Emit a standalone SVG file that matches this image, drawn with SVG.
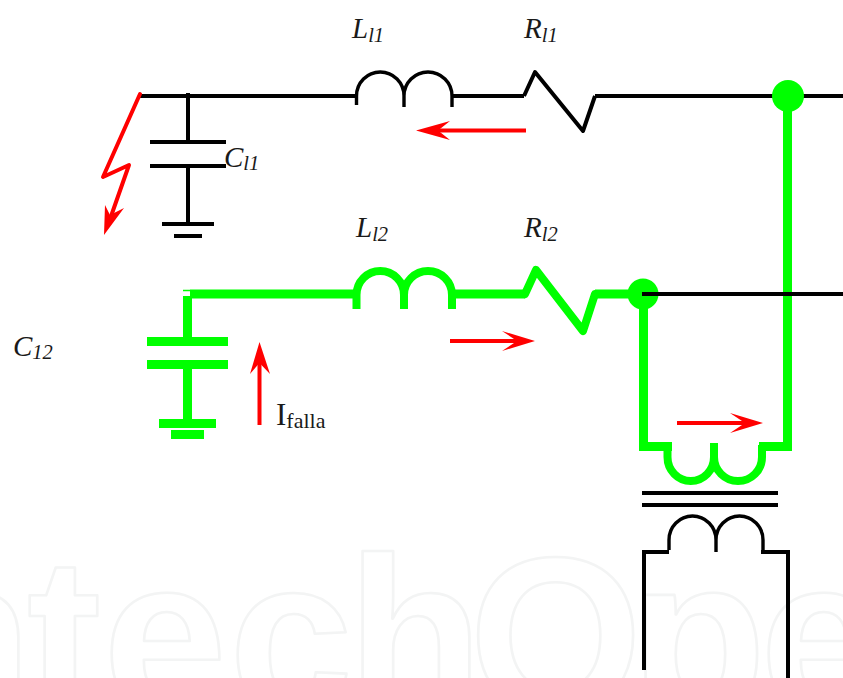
<svg xmlns="http://www.w3.org/2000/svg" width="843" height="678" viewBox="0 0 843 678">
<style>
.wm{font-family:"Liberation Sans",Arial,sans-serif;font-weight:700;font-size:223px;fill:#fff;stroke:#f3f4f4;stroke-width:2.6;stroke-linejoin:round}
.k{fill:none;stroke:#000;stroke-width:4}
.kt{fill:none;stroke:#000;stroke-width:3.4}
.g{fill:none;stroke:#00ff00;stroke-width:9}
.gt{fill:none;stroke:#00ff00;stroke-width:8}
.r{fill:none;stroke:#ff0000;stroke-width:4}
.rh{fill:#ff0000;stroke:none}
.t{font-family:"Liberation Serif","Times New Roman",serif;font-size:29px;font-style:italic;fill:#1a1a1a}
.s{font-size:20.500px}
.u{font-family:"Liberation Serif","Times New Roman",serif;font-size:31px;fill:#1a1a1a}
</style>
<rect width="843" height="678" fill="#fff"/>
<text id="watermark" class="wm" y="713" x="-104 27 103 229 347 469 630 760">ntechOpe</text>
<g id="connectors">
<path class="k" d="M140 96H356M452 96H524M595 96H843"/>
<path class="k" d="M188 93V142M188 166V224"/>
<path class="g" d="M190 294H356M452 294H525M595 294H640"/>
<path class="g" d="M187.500 296V341M187.500 364V424"/>
<path d="M183 290.500H190" stroke="#00ff00" stroke-width="1.500" fill="none"/>
<path class="g" d="M643.500 300V446.500H672M759 446.500H787.500V100"/>
<path class="k" d="M644 670V552H669M761 552H788V678"/>
<path class="r" d="M140 94L103 177L129 165L109 222" stroke-linejoin="round" stroke-linecap="round"/>
<path class="rh" d="M104 235L105 205L110 215L124 208Z"/>
</g>
<g id="L1"><path class="kt" d="M356.500 105V96A23.750 24 0 0 1 404 96V107M404 96A24 24 0 0 1 452 96V107"/><text class="t" x="352" y="38">L<tspan class="s" dy="3.500">l1</tspan></text></g>
<g id="R1"><path class="k" d="M524 96L535 72L583 131L595 96" stroke-linejoin="round"/><text class="t" x="524" y="38">R<tspan class="s" dy="3.500">l1</tspan></text></g>
<g id="C1"><path class="k" d="M150 142H226M150 166H226"/><text class="t" x="224" y="167">C<tspan class="s" dy="3">l1</tspan></text></g>
<g id="G1"><path class="k" d="M162 224H214M174 236H202"/></g>
<g id="L2"><path class="gt" d="M356.500 309V295A23.750 24 0 0 1 404 295V309M404 295A24 24 0 0 1 452 295V309"/><text class="t" x="356" y="237">L<tspan class="s" dy="4">l2</tspan></text></g>
<g id="R2"><path class="gt" d="M525 294L536 270L583 331L595 294" stroke-linejoin="round" stroke-linecap="round"/><text class="t" x="524" y="237">R<tspan class="s" dy="4">l2</tspan></text></g>
<g id="C2"><path class="g" d="M147 341.500H228M147 364.500H228"/><text class="t" x="13" y="356">C<tspan class="s" dy="3">12</tspan></text></g>
<g id="G2"><path class="g" d="M159 423.500H216M171 434.500H204"/></g>
<g id="bus1"><circle cx="788" cy="96" r="16" fill="#00ff00"/></g>
<g id="bus2"><circle cx="643" cy="294" r="15.500" fill="#00ff00"/><path class="k" d="M642 294H843"/></g>
<g id="T"><path class="gt" d="M667.500 445V457A23.250 24 0 0 0 714 457V443M714 457A24 24 0 0 0 762 457V445"/><path class="k" d="M642 493H778M642 505H778"/><path class="kt" d="M669 550V540A23.500 24 0 0 1 716 540V552M716 540A23.500 24 0 0 1 763 540V550"/></g>
<g id="currents">
<path class="r" d="M526 130.500H436"/><path class="rh" d="M416 130.500L450 121L438 130.500L450 140Z"/>
<path class="r" d="M450 341H520"/><path class="rh" d="M535 341L502 331L517 341L502 351Z"/>
<path class="r" d="M677 423H748"/><path class="rh" d="M763 423L730 413L745 423L730 433Z"/>
<path class="r" d="M259.500 425V362"/><path class="rh" d="M259.500 342L250 374L259.500 363L270 374Z"/>
<text class="u" x="276" y="425">I<tspan class="s" style="font-size:22px" dy="3">falla</tspan></text>
</g>
</svg>
